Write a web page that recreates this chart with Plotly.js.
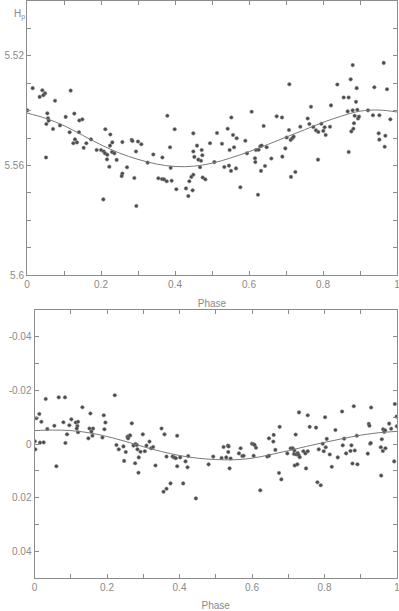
<!DOCTYPE html>
<html>
<head>
<meta charset="utf-8">
<script src="https://cdn.plot.ly/plotly-3.0.1.min.js"></script>
<style>
  html, body { margin: 0; padding: 0; background: #fff; }
  #chart { width: 399px; height: 611px; }
</style>
</head>
<body>
<div id="chart"></div>
<script>
// top panel: Hp magnitude vs phase
const topPhase = [
  0.0153, 0.0009, 0.0414, 0.0486, 0.0441, 0.0342, 0.0757, 0.1180, 0.0550, 0.0568,
  0.0586, 0.0523, 0.0703, 0.0514, 0.0892, 0.1045, 0.1279, 0.1414, 0.1495, 0.1153,
  0.1405, 0.1297, 0.1252, 0.1351, 0.1604, 0.1532, 0.1730, 0.1883, 0.2000, 0.2072,
  0.2117, 0.2252, 0.2243, 0.2306, 0.2108, 0.2171, 0.2297, 0.2360, 0.2162, 0.2423,
  0.2225, 0.2577, 0.2829, 0.2850, 0.3000, 0.3090, 0.2946, 0.2703, 0.2577, 0.2559,
  0.2901, 0.2063, 0.2955, 0.3261, 0.3414, 0.3658, 0.3793, 0.3991, 0.3865, 0.3883,
  0.3550, 0.3649, 0.3703, 0.3775, 0.3910, 0.4036, 0.4297, 0.4360, 0.4387, 0.4441,
  0.4495, 0.4477, 0.4495, 0.4595, 0.4495, 0.4523, 0.4631, 0.4703, 0.4721, 0.4739,
  0.4676, 0.4748, 0.4820, 0.4946,
  0.5063, 0.5135, 0.5270, 0.5333, 0.5423, 0.5459, 0.5477, 0.5514, 0.5523, 0.5568,
  0.5595, 0.5649, 0.5667, 0.5766, 0.5901, 0.5946, 0.6072, 0.6162, 0.6171, 0.6189,
  0.6243, 0.6261, 0.6306, 0.6324, 0.6342, 0.6396, 0.6432, 0.6477, 0.6604, 0.6748,
  0.6892, 0.6901, 0.6982, 0.7018, 0.7081, 0.7090, 0.7126, 0.7135, 0.7171, 0.7207,
  0.7252, 0.7387, 0.7586, 0.7631, 0.7676, 0.7739, 0.7811, 0.7865, 0.7874, 0.7955,
  0.8009, 0.8045, 0.8072, 0.8189, 0.8216, 0.8387, 0.8559, 0.8667, 0.8694, 0.8694,
  0.8748, 0.8766, 0.8802, 0.8820, 0.8838, 0.8856, 0.8892, 0.8910, 0.8928, 0.8946,
  0.8973, 0.9216, 0.9351, 0.9387, 0.9505, 0.9523, 0.9523, 0.9667, 0.9685, 0.9730,
  0.9820, 0.8803, 0.9641
];
const topMag = [
  5.5318, 5.5399, 5.5326, 5.5337, 5.5344, 5.5350, 5.5364, 5.5327, 5.5410, 5.5428,
  5.5437, 5.5449, 5.5467, 5.5571, 5.5454, 5.5423, 5.5411, 5.5436, 5.5432, 5.5479,
  5.5479, 5.5505, 5.5519, 5.5516, 5.5519, 5.5536, 5.5505, 5.5544, 5.5544, 5.5549,
  5.5468, 5.5487, 5.5528, 5.5516, 5.5556, 5.5561, 5.5551, 5.5556, 5.5578, 5.5580,
  5.5605, 5.5515, 5.5507, 5.5511, 5.5513, 5.5523, 5.5549, 5.5607, 5.5630, 5.5639,
  5.5646, 5.5724, 5.5748, 5.5590, 5.5560, 5.5571, 5.5419, 5.5468, 5.5534, 5.5609,
  5.5647, 5.5650, 5.5651, 5.5658, 5.5656, 5.5687, 5.5684, 5.5712, 5.5658, 5.5642,
  5.5634, 5.5691, 5.5483, 5.5528, 5.5549, 5.5569, 5.5579, 5.5583, 5.5544, 5.5563,
  5.5607, 5.5644, 5.5651, 5.5519,
  5.5588, 5.5482, 5.5521, 5.5606, 5.5466, 5.5601, 5.5544, 5.5620, 5.5425, 5.5489,
  5.5534, 5.5611, 5.5501, 5.5680, 5.5510, 5.5556, 5.5404, 5.5574, 5.5588, 5.5544,
  5.5707, 5.5543, 5.5530, 5.5620, 5.5528, 5.5456, 5.5602, 5.5534, 5.5575, 5.5421,
  5.5425, 5.5568, 5.5538, 5.5498, 5.5471, 5.5304, 5.5507, 5.5642, 5.5501, 5.5495,
  5.5624, 5.5459, 5.5429, 5.5449, 5.5386, 5.5460, 5.5472, 5.5579, 5.5478, 5.5448,
  5.5474, 5.5461, 5.5489, 5.5459, 5.5381, 5.5305, 5.5352, 5.5403, 5.5352, 5.5551,
  5.5286, 5.5476, 5.5399, 5.5466, 5.5446, 5.5419, 5.5368, 5.5318, 5.5397, 5.5429,
  5.5422, 5.5399, 5.5417, 5.5315, 5.5483, 5.5506, 5.5417, 5.5532, 5.5492, 5.5322,
  5.5432, 5.5234, 5.5226
];
const topFitPhase = [0, 0.05, 0.1, 0.15, 0.2, 0.25, 0.3, 0.35, 0.4, 0.45, 0.5,
  0.55, 0.6, 0.65, 0.7, 0.75, 0.8, 0.85, 0.9, 0.95, 1];
const topFitMag = [5.5409, 5.5428, 5.5455, 5.5490, 5.5525, 5.5555, 5.5578, 5.5595,
  5.5604, 5.5603, 5.5592, 5.5573, 5.5550, 5.5524, 5.5497, 5.5470, 5.5443, 5.5420,
  5.5402, 5.5398, 5.5405];

// bottom panel: residuals vs phase
const botPhase = [
  0.0309, 0.0668, 0.0842, 0.2214, 0.1321, 0.0051, 0.0133, 0.0189, 0.0354, 0.0548,
  0.0797, 0.0962, 0.1017, 0.1137, 0.1201, 0.1183, 0.1165, 0.1201, 0.0898, 0.1542,
  0.1515, 0.1616, 0.1570, 0.1598, 0.1487, 0.1911, 0.1957, 0.1929, 0.1874, 0.0010,
  0.0023, 0.0152, 0.0253, 0.0852, 0.0603, 0.2684, 0.2564, 0.2601, 0.2638, 0.2583,
  0.2988, 0.2260, 0.2325, 0.2454, 0.2518, 0.2472, 0.2730, 0.2785, 0.2822, 0.2840,
  0.2923, 0.2877, 0.3043, 0.3089, 0.3172, 0.3218, 0.3273, 0.2776, 0.2868, 0.3338,
  0.3504, 0.3586, 0.3642, 0.3807, 0.3853, 0.3899, 0.3936, 0.3936, 0.4019, 0.4166,
  0.4240, 0.4222, 0.3752, 0.3642, 0.3559, 0.4102, 0.4452, 0.4802, 0.4931,
  0.5161, 0.5216, 0.5290, 0.5336, 0.5355, 0.5345, 0.5410, 0.5382, 0.5640, 0.5686,
  0.5732, 0.5769, 0.5999, 0.6045, 0.6073, 0.6110, 0.6045, 0.6229, 0.6423, 0.6469,
  0.6469, 0.6598, 0.6588, 0.6644, 0.6763, 0.6745, 0.6809, 0.6975, 0.7067, 0.7122,
  0.7169, 0.7205, 0.7159, 0.7224, 0.7261, 0.7288, 0.7297, 0.7316, 0.7178, 0.7251,
  0.7417, 0.7472, 0.7537, 0.7491, 0.7537, 0.7592, 0.7767, 0.7841, 0.7951, 0.7979,
  0.8034, 0.8062, 0.8016, 0.8145, 0.7804, 0.7896, 0.8200, 0.8301, 0.8366, 0.8485,
  0.8504, 0.8541, 0.8596, 0.8716, 0.8743, 0.8771, 0.8835, 0.8909, 0.8891, 0.8808,
  0.9194, 0.9222, 0.9240, 0.9259, 0.9277, 0.9286, 0.9553, 0.9563, 0.9581, 0.9609,
  0.9618, 0.9646, 0.9673, 0.9682, 0.9784, 0.9839, 0.9922, 0.9940, 0.9986, 0.9995
];
const botDelta = [
  -0.0168, -0.0174, -0.0174, -0.0182, -0.0137, -0.0096, -0.0112, -0.0083, -0.0056, -0.0068,
  -0.0081, -0.0070, -0.0092, -0.0080, -0.0083, -0.0067, -0.0058, -0.0044, -0.0036, -0.0114,
  -0.0058, -0.0058, -0.0046, -0.0031, -0.0021, -0.0107, -0.0080, -0.0055, -0.0024, -0.0010,
  0.0020, -0.0005, -0.0006, -0.0004, 0.0083, -0.0077, -0.0027, -0.0030, -0.0032, -0.0021,
  -0.0036, 0.0004, 0.0020, 0.0009, 0.0030, 0.0063, 0.0006, 0.0000, 0.0004, 0.0020,
  0.0029, 0.0050, 0.0027, 0.0006, -0.0009, 0.0016, 0.0011, 0.0072, 0.0107, 0.0080,
  -0.0058, -0.0036, 0.0047, 0.0047, 0.0050, 0.0053, -0.0031, 0.0083, 0.0050, 0.0065,
  0.0045, 0.0087, 0.0147, 0.0167, 0.0178, 0.0147, 0.0203, 0.0076, 0.0047,
  0.0052, 0.0011, 0.0050, 0.0006, 0.0009, 0.0030, 0.0054, 0.0091, 0.0035, 0.0016,
  0.0045, 0.0044, -0.0001, 0.0001, 0.0004, 0.0014, 0.0044, 0.0173, 0.0047, 0.0044,
  -0.0021, -0.0034, -0.0009, 0.0022, -0.0064, 0.0108, 0.0132, 0.0035, 0.0016, 0.0016,
  0.0024, -0.0035, 0.0037, 0.0039, 0.0034, 0.0041, -0.0118, 0.0049, 0.0080, 0.0076,
  0.0027, 0.0035, 0.0027, 0.0091, -0.0107, -0.0064, -0.0061, 0.0020, -0.0001, 0.0027,
  0.0012, -0.0019, -0.0100, 0.0039, 0.0143, 0.0154, 0.0085, -0.0052, 0.0050, -0.0121,
  0.0005, -0.0020, 0.0035, 0.0026, 0.0005, 0.0073, 0.0024, 0.0076, -0.0031, -0.0141,
  0.0036, -0.0075, -0.0068, -0.0001, -0.0004, -0.0136, 0.0012, 0.0118, -0.0018, 0.0026,
  -0.0055, -0.0045, -0.0051, 0.0016, -0.0076, -0.0057, 0.0065, -0.0149, -0.0102, -0.0066
];
const botFitPhase = [0, 0.05, 0.1, 0.15, 0.2, 0.25, 0.3, 0.35, 0.4, 0.45, 0.5,
  0.55, 0.6, 0.65, 0.7, 0.75, 0.8, 0.85, 0.9, 0.95, 1];
const botFitDelta = [-0.0050, -0.0052, -0.0050, -0.0042, -0.0028, -0.0010, 0.0010,
  0.0028, 0.0043, 0.0053, 0.0058, 0.0059, 0.0053, 0.0040, 0.0025, 0.0009, -0.0006,
  -0.0020, -0.0033, -0.0042, -0.0047];

const xTickVals = [0, 0.2, 0.4, 0.6, 0.8, 1];
const xTickText = ['0', '0.2', '0.4', '0.6', '0.8', '1'];
const topTickVals = [5.52, 5.56, 5.6];
const topTickText = ['5.52', '5.56', '5.6'];
const botTickVals = [-0.04, -0.02, 0, 0.02, 0.04];
const botTickText = ['-0.04', '-0.02', '0', '0.02', '0.04'];

const W = 399, H = 611;
const axisGray = '#8c8c8c';
const textGray = '#8a8a8a';
const font = { family: 'Liberation Sans, Arial, sans-serif', size: 10, color: textGray };

function axisBase(extra) {
  return Object.assign({
    showline: true, linecolor: axisGray, linewidth: 1, mirror: 'ticks',
    ticks: 'inside', ticklen: 4, tickcolor: axisGray, tickwidth: 1,
    showgrid: false, zeroline: false, tickfont: font, tickmode: 'array',
    ticklabeloverflow: 'allow', automargin: false
  }, extra);
}

function minorTicks(step, start) {
  return { ticks: 'inside', ticklen: 4, tickcolor: axisGray, dtick: step, tick0: start, showgrid: false };
}

const dotStyle = { size: 3.6, color: '#4a4a4a', line: { width: 0.5, color: '#888' } };
const fitStyle = { color: '#7a7a7a', width: 1 };

const traces = [
  { x: topPhase, y: topMag, type: 'scatter', mode: 'markers', marker: dotStyle, xaxis: 'x', yaxis: 'y' },
  { x: topFitPhase, y: topFitMag, type: 'scatter', mode: 'lines', line: Object.assign({ shape: 'spline' }, fitStyle), xaxis: 'x', yaxis: 'y' },
  { x: botPhase, y: botDelta, type: 'scatter', mode: 'markers', marker: dotStyle, xaxis: 'x2', yaxis: 'y2' },
  { x: botFitPhase, y: botFitDelta, type: 'scatter', mode: 'lines', line: Object.assign({ shape: 'spline' }, fitStyle), xaxis: 'x2', yaxis: 'y2' }
];

const layout = {
  width: W, height: H,
  margin: { l: 0, r: 0, t: 0, b: 0 },
  paper_bgcolor: '#fff', plot_bgcolor: '#fff',
  showlegend: false,
  font: font,
  xaxis: axisBase({
    domain: [27 / W, 397 / W], range: [0, 1], anchor: 'y',
    tickvals: xTickVals, ticktext: xTickText, minor: minorTicks(0.1, 0),
    title: { text: 'Phase', font: font, standoff: 10 }
  }),
  yaxis: axisBase({
    domain: [1 - 275 / H, 1 - 1 / H], range: [5.6, 5.5], anchor: 'x',
    tickvals: topTickVals, ticktext: topTickText, minor: minorTicks(0.01, 5.5)
  }),
  xaxis2: axisBase({
    domain: [34.5 / W, 397 / W], range: [0, 1], anchor: 'y2',
    tickvals: xTickVals, ticktext: xTickText, minor: minorTicks(0.1, 0),
    title: { text: 'Phase', font: font, standoff: 10 }
  }),
  yaxis2: axisBase({
    domain: [1 - 578 / H, 1 - 310 / H], range: [0.05, -0.05], anchor: 'x2',
    tickvals: botTickVals, ticktext: botTickText, minor: minorTicks(0.01, 0)
  }),
  annotations: [
    { text: 'H<sub>p</sub>', xref: 'paper', yref: 'paper', x: 12 / W, y: 1 - 14 / H,
      xanchor: 'left', yanchor: 'middle', showarrow: false,
      font: { family: font.family, size: 10, color: textGray } }
  ]
};

Plotly.newPlot('chart', traces, layout, { displayModeBar: false, staticPlot: true });
</script>
</body>
</html>
